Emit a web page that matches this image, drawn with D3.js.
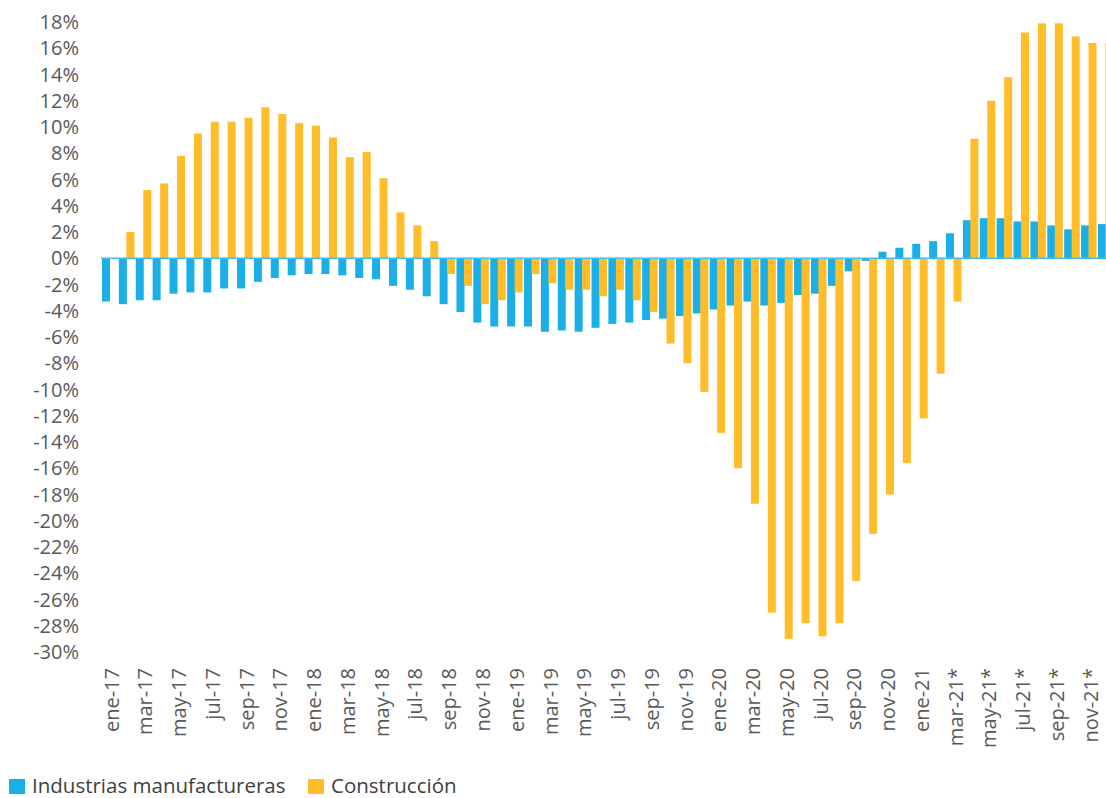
<!DOCTYPE html>
<html>
<head>
<meta charset="utf-8">
<script src="https://cdn.jsdelivr.net/npm/d3@7"></script>
<style>
	body { margin: 0; background: #fff; }
	svg { display: block; font-family: "Open Sans", sans-serif; }
	.tick-label { fill: #595959; font-size: 20px; }
	.legend-label { fill: #404040; font-size: 20.5px; }
</style>
</head>
<body>
<svg width="1106" height="798"></svg>
<script>
const mesesAbr = ["ene", "feb", "mar", "abr", "may", "jun", "jul", "ago", "sep", "oct", "nov", "dic"];
const anios = ["17", "18", "19", "20", "21"];

// meses desde ene-17 hasta dic-21 (a partir de mar-21 llevan asterisco)
const meses = [];
anios.forEach(function(a) {
	mesesAbr.forEach(function(m, i) {
		const est = (a === "21" && i >= 2) ? "*" : "";
		meses.push(m + "-" + a + est);
	});
});

const manufactureras = [
	-3.3, -3.5, -3.2, -3.2, -2.7, -2.6, -2.6, -2.3, -2.3, -1.8, -1.5, -1.3,
	-1.2, -1.2, -1.3, -1.5, -1.6, -2.1, -2.4, -2.9, -3.5, -4.1, -4.9, -5.2,
	-5.2, -5.2, -5.6, -5.5, -5.6, -5.3, -5.0, -4.9, -4.7, -4.6, -4.4, -4.2,
	-3.9, -3.6, -3.3, -3.6, -3.4, -2.8, -2.7, -2.1, -1.0, -0.2, 0.5, 0.8,
	1.1, 1.3, 1.9, 2.9, 3.05, 3.05, 2.8, 2.8, 2.5, 2.2, 2.5, 2.6
];

const construccion = [
	null, 2.0, 5.2, 5.7, 7.8, 9.5, 10.4, 10.4, 10.7, 11.5, 11.0, 10.3,
	10.1, 9.2, 7.7, 8.1, 6.1, 3.5, 2.5, 1.3, -1.2, -2.1, -3.5, -3.2,
	-2.6, -1.2, -1.9, -2.4, -2.4, -2.9, -2.4, -3.2, -4.1, -6.5, -8.0, -10.2,
	-13.3, -16.0, -18.7, -27.0, -29.0, -27.8, -28.8, -27.8, -24.6, -21.0, -18.0, -15.6,
	-12.2, -8.8, -3.3, 9.1, 12.0, 13.8, 17.2, 17.9, 17.9, 16.9, 16.4, 16.4
];

const yTicks = d3.range(-30, 19, 2);

const series = [
	{ nombre: "Industrias manufactureras", valores: manufactureras, color: "#1aafe6" },
	{ nombre: "Construcción", valores: construccion, color: "#ffbd29" }
];

const svg = d3.select("svg");

const step = 16.88,
	x0 = 101;

const x = d3.scaleBand()
	.domain(meses)
	.range([x0, x0 + meses.length * step])
	.paddingInner(0)
	.paddingOuter(0);

const y = d3.scaleLinear()
	.domain([-30, 18])
	.range([652, 22]);

const barW = 8,
	offsets = [1, 8.5]; // desplazamiento de cada serie dentro del mes

// etiquetas eje y
svg.append("g")
	.selectAll("text")
	.data(yTicks)
	.enter().append("text")
	.attr("class", "tick-label")
	.attr("x", 79)
	.attr("y", function(d) { return y(d); })
	.attr("dy", "0.36em")
	.attr("text-anchor", "end")
	.text(function(d) { return d + "%"; });

// barras
series.forEach(function(s, k) {
	svg.append("g")
		.selectAll("rect")
		.data(s.valores.map(function(v, i) { return { mes: meses[i], v: v }; })
			.filter(function(d) { return d.v !== null; }))
		.enter().append("rect")
		.attr("x", function(d) { return x(d.mes) + offsets[k]; })
		.attr("y", function(d) { return y(Math.max(0, d.v)); })
		.attr("width", barW)
		.attr("height", function(d) { return Math.abs(y(d.v) - y(0)); })
		.attr("fill", s.color);
});

// linea del cero
svg.append("line")
	.attr("x1", x0)
	.attr("x2", 1106)
	.attr("y1", y(0))
	.attr("y2", y(0))
	.attr("stroke", "#45bdea")
	.attr("stroke-width", 1.5);

// etiquetas eje x (cada dos meses)
svg.append("g")
	.selectAll("text")
	.data(meses.filter(function(d, i) { return i % 2 === 0; }))
	.enter().append("text")
	.attr("class", "tick-label")
	.attr("text-anchor", "end")
	.attr("dy", "0.36em")
	.attr("transform", function(d) {
		return "translate(" + (x(d) + x.bandwidth() / 2 + 2) + ",668) rotate(-90)";
	})
	.text(function(d) { return d; });

// leyenda
const legend = svg.append("g");
const legX = [9, 308];

const item = legend.selectAll("g")
	.data(series)
	.enter().append("g")
	.attr("transform", function(d, i) { return "translate(" + legX[i] + ",779)"; });

item.append("rect")
	.attr("width", 16)
	.attr("height", 15)
	.attr("fill", function(d) { return d.color; });

item.append("text")
	.attr("class", "legend-label")
	.attr("x", 23)
	.attr("y", 7)
	.attr("dy", "0.36em")
	.text(function(d) { return d.nombre; });
</script>
</body>
</html>
